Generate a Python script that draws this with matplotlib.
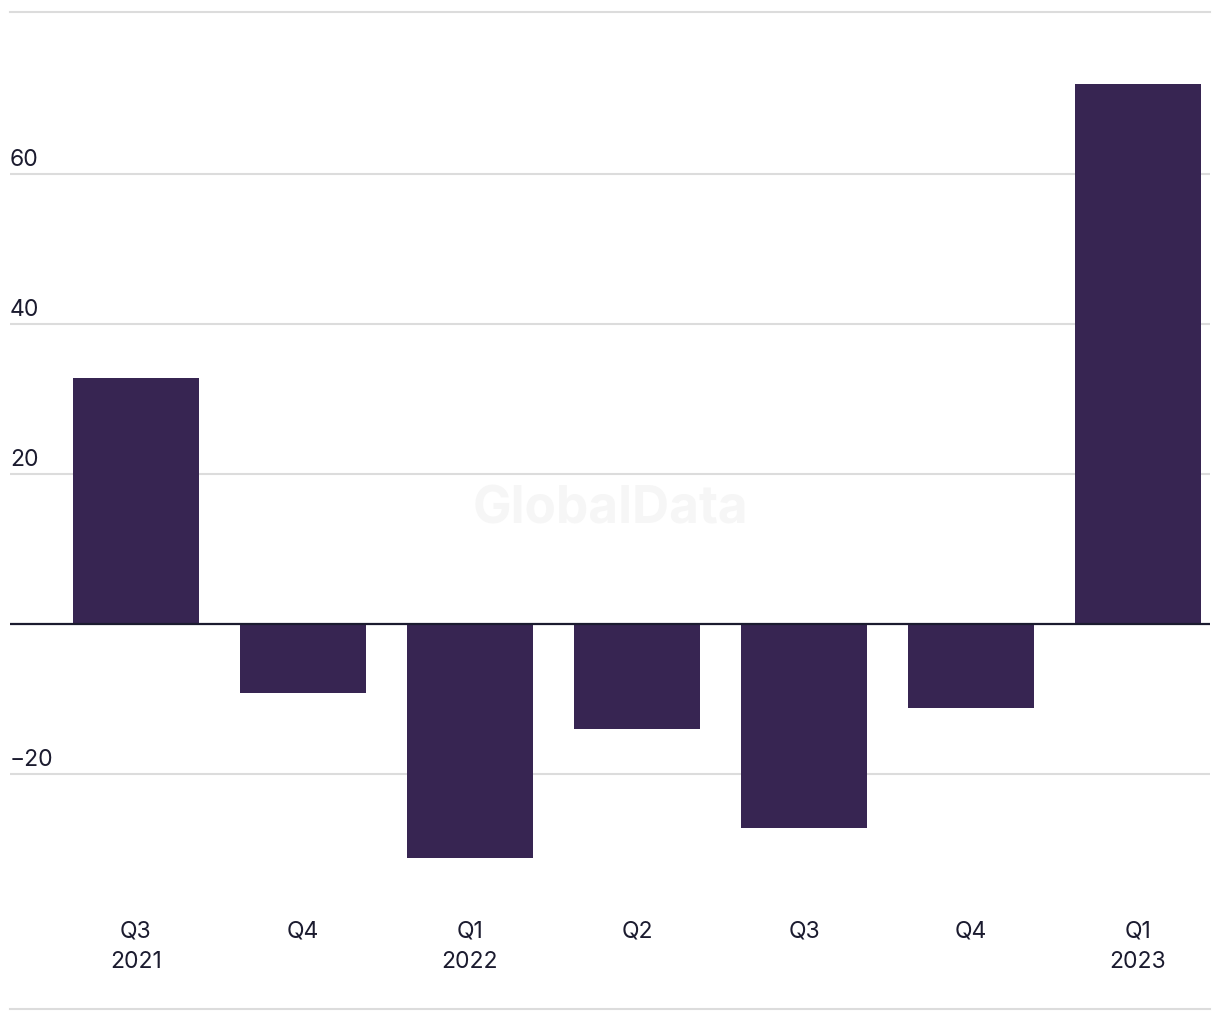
import matplotlib
matplotlib.use('Agg')
import matplotlib.pyplot as plt
import matplotlib.transforms as mtransforms

# data
quarters = ['Q3\n2021', 'Q4', 'Q1\n2022', 'Q2', 'Q3', 'Q4', 'Q1\n2023']
values = [32.9, -9.1, -31.1, -14.0, -27.1, -11.1, 72.0]
grid_ticks = [-20, 20, 40, 60]
tick_labels = ['\u221220', '20', '40', '60']

bar_color = '#372552'
text_color = '#1b1b2f'
grid_color = '#dcdcdc'

plt.rcParams['font.family'] = ['Inter', 'DejaVu Sans']

fig = plt.figure(figsize=(12.2, 10.2), dpi=100)
W, H = 1220, 1020
ax = fig.add_axes([10 / W, (H - 1009.5) / H, 1200 / W, (1009.5 - 12.5) / H])

x = list(range(len(values)))
ax.bar(x, values, width=0.755, color=bar_color, zorder=2)

ax.set_xlim(-0.754, 6.431)
ax.set_ylim(-51.2, 81.73)

for v in grid_ticks:
    ax.axhline(v, color=grid_color, lw=1.5, zorder=1)
ax.axhline(0, color=text_color, lw=1.6, zorder=3)

# y labels sit above their gridlines, flush left
trans = mtransforms.blended_transform_factory(ax.transAxes, ax.transData)
trans = mtransforms.offset_copy(trans, fig=fig, x=0, y=3, units='points')
for v, lab in zip(grid_ticks, tick_labels):
    ax.text(0.0, v, lab, transform=trans, ha='left', va='bottom',
            fontsize=16.5, color=text_color)
ax.set_yticks([])

ax.set_xticks(x)
ax.set_xticklabels(quarters, fontsize=16.5, color=text_color, linespacing=1.5)
ax.tick_params(axis='x', length=0, pad=-64)

for side in ['left', 'right']:
    ax.spines[side].set_visible(False)
for side in ['top', 'bottom']:
    ax.spines[side].set_color(grid_color)
    ax.spines[side].set_linewidth(1.5)

ax.text(0.5, 0.5, 'GlobalData', transform=fig.transFigure, ha='center', va='center',
        fontsize=37, fontweight='bold', color='#f6f6f6', zorder=0)

fig.savefig('out.png', dpi=100, facecolor='white')
